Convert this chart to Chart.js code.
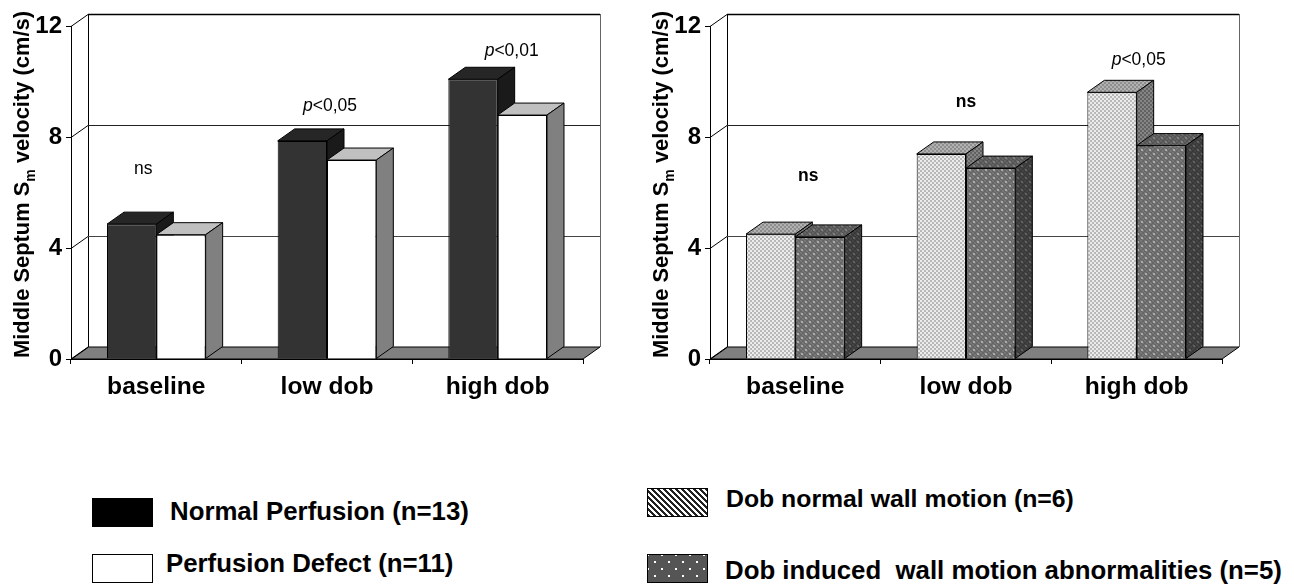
<!DOCTYPE html>
<html lang="en">
<head>
    <meta charset="UTF-8">
    <title>Middle Septum Sm velocity</title>
    <style>
        body {
            margin: 0;
            background: #fff;
            width: 1294px;
            height: 585px;
            position: relative;
            overflow: hidden;
            font-family: 'Liberation Sans', Arial, sans-serif;
        }
        canvas { position: absolute; top: 0; }
        #leftChart { left: 0; }
        #rightChart { left: 640px; }
        .swatch { position: absolute; box-sizing: border-box; border: 1px solid #000; }
        .key {
            position: absolute;
            font-weight: bold;
            font-size: 25.8px;
            line-height: 26px;
            white-space: pre;
            color: #000;
        }
        #swatchNormal { left: 92px; top: 498px; width: 61px; height: 29px; background: #000; }
        #swatchDefect { left: 92px; top: 554px; width: 61px; height: 29px; background: #fff; }
        #swatchDobNormal {
            left: 647px; top: 488px; width: 61px; height: 29px;
            background: repeating-linear-gradient(45deg, #222 0 2px, #fff 2px 4.2px);
        }
        #swatchDobInduced {
            left: 647px; top: 554px; width: 61px; height: 29px;
            background:
                radial-gradient(circle, #fff .9px, transparent 1.2px) 0 0 / 14px 14px,
                radial-gradient(circle, #fff .9px, transparent 1.2px) 7px 7px / 14px 14px,
                #555;
        }
    </style>
    <script src="https://cdn.jsdelivr.net/npm/chart.js"></script>
</head>
<body>
    <canvas id="leftChart" width="640" height="430"></canvas>
    <canvas id="rightChart" width="654" height="430"></canvas>

    <div class="swatch" id="swatchNormal"></div>
    <div class="key" id="keyNormal" style="left:170px;top:498px"></div>
    <div class="swatch" id="swatchDefect"></div>
    <div class="key" id="keyDefect" style="left:166px;top:550px"></div>
    <div class="swatch" id="swatchDobNormal"></div>
    <div class="key" id="keyDobNormal" style="left:726px;top:486px;font-size:24.8px"></div>
    <div class="swatch" id="swatchDobInduced"></div>
    <div class="key" id="keyDobInduced" style="left:725px;top:557px"></div>

    <script>
        const categories = ['baseline', 'low dob', 'high dob'];
        const yTicks = [0, 4, 8, 12];

        const normalPerfusion = [4.86, 7.86, 10.08];
        const perfusionDefect = [4.48, 7.17, 8.79];
        const dobNormalWall = [4.5, 7.39, 9.61];
        const dobInducedWall = [4.4, 6.88, 7.69];

        const leftNotes = ['ns', 'p<0,05', 'p<0,01'];
        const leftNoteValues = [6.85, 9.12, 11.1];
        const rightNotes = ['ns', 'ns', 'p<0,05'];
        const rightNoteValues = [6.59, 9.27, 10.77];

        const keyLabels = {
            keyNormal: 'Normal Perfusion (n=13)',
            keyDefect: 'Perfusion Defect (n=11)',
            keyDobNormal: 'Dob normal wall motion (n=6)',
            keyDobInduced: 'Dob induced  wall motion abnormalities (n=5)'
        };
        Object.keys(keyLabels).forEach(id => {
            document.getElementById(id).textContent = keyLabels[id];
        });

        // 3D look of the old spreadsheet chart
        const depthX = 17;
        const depthY = 12;
        const fontName = "'Liberation Sans', Arial, sans-serif";

        // Small repeating tile: checker in two greys, optional staggered dots
        function makeTexture(a, b, dot) {
            const tile = document.createElement('canvas');
            tile.width = 8;
            tile.height = 8;
            const t = tile.getContext('2d');
            for (let y = 0; y < 8; y += 2) {
                for (let x = 0; x < 8; x += 2) {
                    t.fillStyle = ((x + y) / 2) % 2 === 0 ? a : b;
                    t.fillRect(x, y, 2, 2);
                }
            }
            if (dot) {
                t.fillStyle = dot;
                t.fillRect(1, 1, 2, 2);
                t.fillRect(5, 5, 2, 2);
            }
            return t.createPattern(tile, 'repeat');
        }

        const leftFaces = [
            { front: '#333333', top: '#262626', side: '#1a1a1a' },
            { front: '#ffffff', top: '#c0c0c0', side: '#808080' }
        ];
        const rightFaces = [
            {
                front: makeTexture('#ececec', '#b8b8b8'),
                top: makeTexture('#b2b2b2', '#8e8e8e'),
                side: makeTexture('#858585', '#626262')
            },
            {
                front: makeTexture('#777777', '#666666', '#ababab'),
                top: makeTexture('#646464', '#545454', '#808080'),
                side: makeTexture('#444444', '#383838', '#626262')
            }
        ];

        function shape(ctx, points, fill, stroke) {
            ctx.beginPath();
            points.forEach((p, i) => i ? ctx.lineTo(p[0], p[1]) : ctx.moveTo(p[0], p[1]));
            ctx.closePath();
            if (fill) {
                ctx.fillStyle = fill;
                ctx.fill();
            }
            if (stroke) {
                ctx.strokeStyle = stroke;
                ctx.lineWidth = 1;
                ctx.stroke();
            }
        }

        function line(ctx, x1, y1, x2, y2, color, width) {
            ctx.beginPath();
            ctx.moveTo(x1, y1);
            ctx.lineTo(x2, y2);
            ctx.strokeStyle = color;
            ctx.lineWidth = width || 1;
            ctx.stroke();
        }

        // Back wall, floor, gridlines and the top/side faces of the bars
        const wallPlugin = {
            id: 'wall',
            beforeDatasetsDraw(chart) {
                const ctx = chart.ctx;
                const a = chart.chartArea;
                const y = chart.scales.y;
                ctx.save();
                shape(ctx, [[a.left, a.bottom], [a.left + depthX, a.bottom - depthY],
                    [a.right + depthX, a.bottom - depthY], [a.right, a.bottom]], '#808080', '#000');
                line(ctx, a.left + depthX + .5, a.top - depthY, a.left + depthX + .5, a.bottom - depthY, '#000');
                line(ctx, a.left + depthX, a.top - depthY + .5, a.right + depthX, a.top - depthY + .5, '#000', 1.5);
                line(ctx, a.right + depthX + .5, a.top - depthY, a.right + depthX + .5, a.bottom - depthY, '#666');
                yTicks.forEach(v => {
                    const py = Math.round(y.getPixelForValue(v)) + .5;
                    line(ctx, a.left, py, a.left + depthX, py - depthY, '#000');
                    if (v > 0 && v < 12) {
                        line(ctx, a.left + depthX, py - depthY, a.right + depthX, py - depthY, v === 4 ? '#444' : '#222');
                    }
                });

                // first series first, so the second one's top sits on the first one's side
                const faces = chart.options.plugins.wall.faces;
                chart.data.datasets.forEach((ds, index) => {
                    chart.getDatasetMeta(index).data.forEach(bar => {
                        const half = bar.width / 2;
                        const l = bar.x - half;
                        const r = bar.x + half;
                        shape(ctx, [[l, bar.y], [l + depthX, bar.y - depthY], [r + depthX, bar.y - depthY], [r, bar.y]], faces[index].top, '#000');
                        shape(ctx, [[r, bar.y], [r + depthX, bar.y - depthY], [r + depthX, bar.base - depthY], [r, bar.base]], faces[index].side, '#000');
                    });
                });
                ctx.restore();
            },
            afterDraw(chart) {
                const ctx = chart.ctx;
                const opts = chart.options.plugins.wall;
                const x = chart.scales.x;
                const y = chart.scales.y;
                ctx.save();
                ctx.fillStyle = '#000';
                ctx.textBaseline = 'middle';
                opts.notes.forEach((note, i) => {
                    let px = x.getPixelForValue(i) + opts.noteShift[i];
                    const py = y.getPixelForValue(opts.noteValues[i]);
                    const weight = opts.noteWeight[i];
                    ctx.textAlign = 'left';
                    ctx.font = weight + ' 17.5px ' + fontName;
                    if (note[0] === 'p') {
                        const rest = note.slice(1);
                        const restWidth = ctx.measureText(rest).width;
                        ctx.font = 'italic 17.5px ' + fontName;
                        const pWidth = ctx.measureText('p').width;
                        px -= (restWidth + pWidth) / 2;
                        ctx.fillText('p', px, py);
                        ctx.font = weight + ' 17.5px ' + fontName;
                        ctx.fillText(rest, px + pWidth, py);
                    } else {
                        ctx.textAlign = 'center';
                        ctx.fillText(note, px, py);
                    }
                });

                // y axis title, pieced together for the subscript
                ctx.translate(opts.titleX, y.getPixelForValue(0));
                ctx.rotate(-Math.PI / 2);
                ctx.textAlign = 'left';
                ctx.textBaseline = 'alphabetic';
                let run = 1;
                ctx.font = 'bold 21.9px ' + fontName;
                ctx.fillText('Middle Septum S', run, 0);
                run += ctx.measureText('Middle Septum S').width;
                ctx.font = 'bold 14px ' + fontName;
                ctx.fillText('m', run, 6);
                run += ctx.measureText('m').width;
                ctx.font = 'bold 21.9px ' + fontName;
                ctx.fillText(' velocity (cm/s)', run, 0);
                ctx.restore();
            }
        };

        function buildChart(id, first, second, faces, notes, noteValues, noteShift, noteWeight, rightPad, axisWidth, titleX) {
            return new Chart(document.getElementById(id), {
                type: 'bar',
                data: {
                    labels: categories,
                    datasets: [
                        { data: first, backgroundColor: faces[0].front },
                        { data: second, backgroundColor: faces[1].front }
                    ]
                },
                options: {
                    responsive: false,
                    animation: false,
                    layout: { padding: { top: 26, right: rightPad, bottom: 0, left: 0 } },
                    datasets: {
                        bar: {
                            categoryPercentage: 0.578,
                            barPercentage: 1,
                            borderColor: '#000',
                            borderWidth: 1
                        }
                    },
                    plugins: {
                        legend: { display: false },
                        tooltip: { enabled: false },
                        wall: { faces, notes, noteValues, noteShift, noteWeight, titleX }
                    },
                    scales: {
                        x: {
                            afterFit: s => { s.height = 71; },
                            border: { color: '#000' },
                            grid: { drawOnChartArea: false, color: '#000', tickLength: 5 },
                            ticks: {
                                color: '#000',
                                padding: 8,
                                maxRotation: 0,
                                font: { family: fontName, size: 24.6, weight: 'bold' }
                            }
                        },
                        y: {
                            min: 0,
                            max: 12,
                            afterFit: s => { s.width = axisWidth; },
                            afterBuildTicks: s => { s.ticks = yTicks.map(value => ({ value })); },
                            border: { color: '#000' },
                            grid: { drawOnChartArea: false, color: '#000', tickLength: 5 },
                            ticks: {
                                color: '#000',
                                padding: 4,
                                font: { family: fontName, size: 24, weight: 'bold' }
                            }
                        }
                    }
                },
                plugins: [wallPlugin]
            });
        }

        buildChart('leftChart', normalPerfusion, perfusionDefect, leftFaces, leftNotes, leftNoteValues,
            [-13, 3, 14], ['normal', 'normal', 'normal'], 57, 71, 29);
        buildChart('rightChart', dobNormalWall, dobInducedWall, rightFaces, rightNotes, rightNoteValues,
            [13, 0, 2], ['bold', 'bold', 'normal'], 72, 70, 28);
    </script>
</body>
</html>
